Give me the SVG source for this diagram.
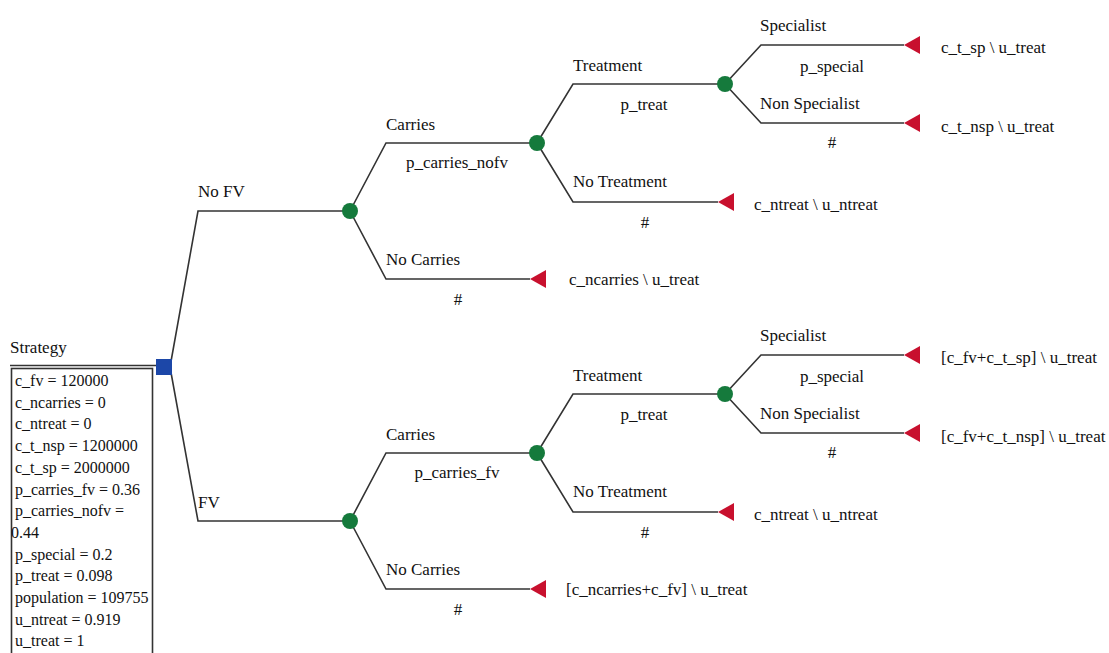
<svg xmlns="http://www.w3.org/2000/svg" width="1109" height="653" viewBox="0 0 1109 653">
<defs>
<style>
text{font-family:'Liberation Serif','Times New Roman','DejaVu Serif',serif;font-size:17px;fill:#111}
.bx text{font-size:16px}
.m{text-anchor:middle}
.ln{fill:none;stroke:#333;stroke-width:1.6}
.ch{fill:#157a3c}
.tm{fill:#c8102e}
.dc{fill:#1c47a8}
</style>
<polygon id="tri" points="0,0 16,-9 16,9"/>
</defs>
<rect width="1109" height="653" fill="#fff"/>
<g id="connectors">
<polyline class="ln" points="10,365.5 164,365.5"/>
<polyline class="ln" points="170,367 198,211 350,211"/>
<polyline class="ln" points="170,367 198,521 350,521"/>
<polyline class="ln" points="350,211 386,143 537,143"/>
<polyline class="ln" points="350,211 386,279 530,279"/>
<polyline class="ln" points="537,143 573,84 725,84"/>
<polyline class="ln" points="537,143 573,202 718,202"/>
<polyline class="ln" points="725,84 761,45 904,45"/>
<polyline class="ln" points="725,84 761,123 904,123"/>
<polyline class="ln" points="350,521 386,453 537,453"/>
<polyline class="ln" points="350,521 386,589 530,589"/>
<polyline class="ln" points="537,453 573,394 725,394"/>
<polyline class="ln" points="537,453 573,512 718,512"/>
<polyline class="ln" points="725,394 761,355 904,355"/>
<polyline class="ln" points="725,394 761,433 904,433"/>
</g>
<g id="strategy" class="bx">
<rect class="dc" x="156" y="359" width="16" height="16"/>
<text x="10" y="353" style="font-size:17px">Strategy</text>
<rect x="11.5" y="368.5" width="141" height="300" fill="none" stroke="#333" stroke-width="1.6"/>
<text x="15" y="386">c_fv = 120000</text>
<text x="15" y="407.7">c_ncarries = 0</text>
<text x="15" y="429.4">c_ntreat = 0</text>
<text x="15" y="451.1">c_t_nsp = 1200000</text>
<text x="15" y="472.8">c_t_sp = 2000000</text>
<text x="15" y="494.5">p_carries_fv = 0.36</text>
<text x="15" y="516.2">p_carries_nofv =</text>
<text x="11" y="537.9">0.44</text>
<text x="15" y="559.6">p_special = 0.2</text>
<text x="15" y="581.3">p_treat = 0.098</text>
<text x="15" y="603">population = 109755</text>
<text x="15" y="624.7">u_ntreat = 0.919</text>
<text x="15" y="646.4">u_treat = 1</text>
</g>
<g id="nofv">
<circle class="ch" cx="350" cy="211" r="8"/>
<text x="198" y="197">No FV</text>
</g>
<g id="nofv-carries">
<circle class="ch" cx="537" cy="143" r="8"/>
<text x="386" y="130">Carries</text>
<text class="m" x="457" y="168">p_carries_nofv</text>
</g>
<g id="nofv-nocarries">
<use href="#tri" class="tm" x="530" y="279"/>
<text x="386" y="265">No Carries</text>
<text class="m" x="458" y="305">#</text>
<text x="569" y="285">c_ncarries \ u_treat</text>
</g>
<g id="nofv-treatment">
<circle class="ch" cx="725" cy="84" r="8"/>
<text x="573" y="71">Treatment</text>
<text class="m" x="644" y="110">p_treat</text>
</g>
<g id="nofv-notreatment">
<use href="#tri" class="tm" x="718" y="202"/>
<text x="573" y="187">No Treatment</text>
<text class="m" x="645" y="228">#</text>
<text x="754" y="210">c_ntreat \ u_ntreat</text>
</g>
<g id="nofv-specialist">
<use href="#tri" class="tm" x="904" y="45"/>
<text x="760" y="31">Specialist</text>
<text class="m" x="832" y="72">p_special</text>
<text x="941" y="53">c_t_sp \ u_treat</text>
</g>
<g id="nofv-nonspecialist">
<use href="#tri" class="tm" x="904" y="123"/>
<text x="760" y="109">Non Specialist</text>
<text class="m" x="832" y="148">#</text>
<text x="941" y="132">c_t_nsp \ u_treat</text>
</g>
<g id="fv">
<circle class="ch" cx="350" cy="521" r="8"/>
<text x="198" y="508">FV</text>
</g>
<g id="fv-carries">
<circle class="ch" cx="537" cy="453" r="8"/>
<text x="386" y="440">Carries</text>
<text class="m" x="457" y="478">p_carries_fv</text>
</g>
<g id="fv-nocarries">
<use href="#tri" class="tm" x="530" y="589"/>
<text x="386" y="575">No Carries</text>
<text class="m" x="458" y="615">#</text>
<text x="566" y="595">[c_ncarries+c_fv] \ u_treat</text>
</g>
<g id="fv-treatment">
<circle class="ch" cx="725" cy="394" r="8"/>
<text x="573" y="381">Treatment</text>
<text class="m" x="644" y="420">p_treat</text>
</g>
<g id="fv-notreatment">
<use href="#tri" class="tm" x="718" y="512"/>
<text x="573" y="497">No Treatment</text>
<text class="m" x="645" y="538">#</text>
<text x="754" y="520">c_ntreat \ u_ntreat</text>
</g>
<g id="fv-specialist">
<use href="#tri" class="tm" x="904" y="355"/>
<text x="760" y="341">Specialist</text>
<text class="m" x="832" y="382">p_special</text>
<text x="941" y="363">[c_fv+c_t_sp] \ u_treat</text>
</g>
<g id="fv-nonspecialist">
<use href="#tri" class="tm" x="904" y="433"/>
<text x="760" y="419">Non Specialist</text>
<text class="m" x="832" y="458">#</text>
<text x="941" y="442">[c_fv+c_t_nsp] \ u_treat</text>
</g>
</svg>
